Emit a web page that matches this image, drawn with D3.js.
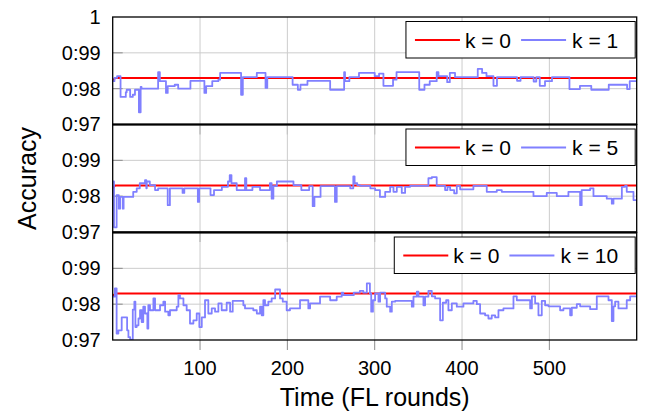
<!DOCTYPE html>
<html lang="en">
<head>
<meta charset="UTF-8">
<title>Accuracy over FL rounds</title>
<style>
    body { margin: 0; background: #fff; }
    text { font-family: "Liberation Sans", Arial, sans-serif; fill: #000; }
</style>
</head>
<body>
<div id="chart"></div>
<script src="https://d3js.org/d3.v7.min.js"></script>
<script>
// baseline k = 0 (same in every panel)
const roundsK0 = [0, 3, 600];
const accK0 = [0.9822, 0.983, 0.983];

// k = 1
const roundsK1 = [0,2,5,9,15,16,20,23,25.5,30,32,33,52,54,61,63,71,75,89,105,107,114,121,123,147,149,165,175,177,206,212,215,223,249,265,266,271,282,300,305,310,321,325,351,357,363,371,373,383,386,392,418,423,428,436,440,463,467,482,485,489,495,503,523,535,548,568,589,592,600];
const accK1 = [0.9821,0.9830,0.9835,0.9777,0.9790,0.9797,0.9777,0.9783,0.9797,0.9734,0.9805,0.9800,0.9846,0.9821,0.9788,0.9807,0.9811,0.9800,0.9822,0.9788,0.9807,0.9821,0.9825,0.9844,0.9783,0.9832,0.9844,0.9802,0.9832,0.9811,0.9797,0.9811,0.9822,0.9797,0.9846,0.9821,0.9832,0.9844,0.9835,0.9842,0.9808,0.9825,0.9846,0.9797,0.9811,0.9821,0.9846,0.9835,0.9818,0.9844,0.9832,0.9855,0.9844,0.9835,0.9808,0.9832,0.9822,0.9832,0.9820,0.9832,0.9808,0.9821,0.9832,0.9799,0.9808,0.9797,0.9811,0.9799,0.9821,0.9821];

// k = 5
const roundsK5 = [0,1.5,4.5,7,8.5,11.5,12.5,23.5,27.5,31,37,38.5,39,42.5,48.5,52,63,65.5,80,82,97.5,99,112,116,125,132,134,136,142,151.5,153,160,168.7,180,182,184,188,207,216,225,229,231,238,254.5,256.5,272,275.5,277,280,283,295,300.5,306,312,317.7,321.5,325.3,331,334.8,340.6,361.5,365.4,371,380.6,383.3,386.4,391,394,397.8,413,428.3,439.8,445.5,481.8,497,508.5,521.8,535.2,537,546.7,550.5,565.7,571.5,573.4,583,586.7,588.6,596.3,600];
const accK5 = [0.9841,0.9713,0.9803,0.9765,0.9798,0.9765,0.9798,0.9812,0.9822,0.9836,0.9845,0.9822,0.9841,0.9831,0.9817,0.9822,0.9775,0.9822,0.9809,0.9822,0.9784,0.9822,0.9803,0.9817,0.9826,0.9841,0.9859,0.9836,0.9817,0.9850,0.9817,0.9826,0.9817,0.9836,0.9793,0.9828,0.9841,0.9831,0.9817,0.9828,0.9772,0.9798,0.9828,0.9784,0.9828,0.9822,0.9855,0.9836,0.9831,0.9829,0.9822,0.9817,0.9798,0.9812,0.9826,0.9812,0.9826,0.9809,0.9826,0.9829,0.9850,0.9853,0.9829,0.9817,0.9826,0.9817,0.9808,0.9829,0.9819,0.9829,0.9812,0.9817,0.9812,0.9800,0.9809,0.9800,0.9812,0.9775,0.9817,0.9822,0.9800,0.9793,0.9779,0.9793,0.9826,0.9829,0.9812,0.9789,0.9789];

// k = 10
const roundsK10 = [0,2.5,4.5,6.5,10.3,16.5,18,20,23,24.8,26,27.5,29.5,31.3,33.2,35,37,39.7,40.8,42.7,46.6,48.5,54.2,58,60,63.7,65.6,73.3,75.2,77,81,84.7,88.5,92.4,96.2,99.2,102,105.7,109.5,113.4,117.2,121,124.8,130.5,134.4,137.4,149.6,151.5,161,165,168.7,170.6,172.5,174.4,178.2,182,186,191.6,194.7,199.2,203,214.5,224,226,237.4,249,256.5,262.2,264,276,283,287,291,294.5,296,298,300.5,304.3,306.2,312,313.8,317.7,319.6,323.4,342.5,344.4,348.2,350.1,355.8,357.7,361.5,365.4,369.2,374.9,378,381.8,384.4,388.3,394,401.6,413,416.9,420.7,426.4,430.2,434,437.9,441.7,447.4,458.9,462.7,478,480,483.7,487.5,491.3,495.1,499,512.3,516.1,523.8,525.7,531.4,535.2,546.7,554.3,567.7,571.5,573.4,575.3,579.1,588.6,592.5,600];
const accK10 = [0.9821,0.9844,0.9718,0.9727,0.9763,0.9727,0.9708,0.9701,0.9785,0.9807,0.9736,0.9741,0.9760,0.9783,0.9750,0.9793,0.9774,0.9732,0.9797,0.9783,0.9816,0.9783,0.9797,0.9807,0.9779,0.9769,0.9783,0.9793,0.9825,0.9816,0.9797,0.9783,0.9746,0.9755,0.9774,0.9736,0.9763,0.9811,0.9774,0.9788,0.9779,0.9802,0.9783,0.9804,0.9779,0.9809,0.9797,0.9788,0.9783,0.9774,0.9793,0.9769,0.9811,0.9797,0.9807,0.9816,0.9841,0.9816,0.9807,0.9783,0.9788,0.9811,0.9788,0.9802,0.9821,0.9811,0.9821,0.9832,0.9825,0.9832,0.9837,0.9832,0.9858,0.9830,0.9779,0.9811,0.9830,0.9807,0.9832,0.9816,0.9793,0.9779,0.9807,0.9809,0.9793,0.9821,0.9835,0.9821,0.9797,0.9821,0.9837,0.9822,0.9816,0.9755,0.9804,0.9811,0.9783,0.9802,0.9793,0.9802,0.9809,0.9800,0.9774,0.9769,0.9760,0.9769,0.9763,0.9783,0.9788,0.9822,0.9811,0.9788,0.9822,0.9802,0.9769,0.9809,0.9797,0.9794,0.9783,0.9788,0.9769,0.9790,0.9800,0.9794,0.9786,0.9822,0.9811,0.9753,0.9794,0.9807,0.9788,0.9811,0.9822,0.9822];

const seriesLabels = ["k = 1", "k = 5", "k = 10"];
const baseLabel = "k = 0";
const xTickVals = [100, 200, 300, 400, 500];
const yTickVals = [0.97, 0.98, 0.99, 1];
const yTickLabels = ["0:97", "0:98", "0:99", "1"];

const W = 645, H = 415;
const left = 112.7, right = 636.7;
const panelTops = [17, 124.5, 232.5];
const panelH = 107.5;

const svg = d3.select("#chart").append("svg")
    .attr("width", W).attr("height", H);

const x = d3.scaleLinear().domain([0, 600]).range([left, right]);

const panels = [
    { rounds: roundsK1, acc: accK1, label: seriesLabels[0] },
    { rounds: roundsK5, acc: accK5, label: seriesLabels[1] },
    { rounds: roundsK10, acc: accK10, label: seriesLabels[2] }
];

panels.forEach((p, i) => {
    const top = panelTops[i], bottom = top + panelH;
    const y = d3.scaleLinear().domain([0.97, 1]).range([bottom, top]);
    const g = svg.append("g");

    g.append("clipPath").attr("id", "clip" + i)
        .append("rect").attr("x", left).attr("y", top)
        .attr("width", right - left).attr("height", panelH);

    // grid
    g.selectAll(".gx").data(xTickVals).enter().append("line")
        .attr("x1", d => x(d)).attr("x2", d => x(d))
        .attr("y1", top).attr("y2", bottom)
        .attr("stroke", "#cccccc").attr("stroke-width", 1);
    g.selectAll(".gy").data([0.98, 0.99]).enter().append("line")
        .attr("x1", left).attr("x2", right)
        .attr("y1", d => y(d)).attr("y2", d => y(d))
        .attr("stroke", "#cccccc").attr("stroke-width", 1);

    // small ticks
    g.selectAll(".ty").data([0.98, 0.99]).enter().append("line")
        .attr("x1", left).attr("x2", left + 10)
        .attr("y1", d => y(d)).attr("y2", d => y(d))
        .attr("stroke", "#8c8c8c").attr("stroke-width", 1);
    g.selectAll(".tx").data(xTickVals).enter().append("line")
        .attr("x1", d => x(d)).attr("x2", d => x(d))
        .attr("y1", bottom).attr("y2", bottom + 10)
        .attr("stroke", "#8c8c8c").attr("stroke-width", 1);

    // y axis labels
    const vals = i === 0 ? yTickVals : yTickVals.slice(0, 3);
    const yAxis = d3.axisLeft(y).tickValues(vals)
        .tickFormat(d => yTickLabels[yTickVals.indexOf(d)])
        .tickSize(0).tickPadding(12);
    const ag = g.append("g").attr("transform", `translate(${left},0)`).call(yAxis);
    ag.select(".domain").remove();
    ag.selectAll("text").style("font-size", "20px")
        .style("font-family", '"Liberation Sans", Arial, sans-serif').attr("fill", "#000");

    // lines
    const line = d3.line()
        .x(d => x(d[0])).y(d => y(d[1]));
    const lineStep = d3.line().curve(d3.curveStepAfter)
        .x(d => x(d[0])).y(d => y(d[1]));

    g.append("path")
        .datum(roundsK0.map((r, j) => [r, accK0[j]]))
        .attr("clip-path", `url(#clip${i})`)
        .attr("d", line).attr("fill", "none")
        .attr("stroke", "#ff0000").attr("stroke-width", 2);
    g.append("path")
        .datum(p.rounds.map((r, j) => [r, p.acc[j]]))
        .attr("clip-path", `url(#clip${i})`)
        .attr("d", lineStep).attr("fill", "none")
        .attr("stroke", "#8080ff").attr("stroke-width", 1.8)
        .attr("stroke-linejoin", "round");

    // frame
    g.append("rect").attr("x", left).attr("y", top)
        .attr("width", right - left).attr("height", panelH)
        .attr("fill", "none").attr("stroke", "#000").attr("stroke-width", 1.3);

    // legend
    const lg = g.append("g");
    const box = lg.append("rect").attr("fill", "#fff")
        .attr("stroke", "#000").attr("stroke-width", 1);
    const ly = top + 23;
    const t0 = lg.append("text").attr("y", ly + 7.5).style("font-size", "21px").text(baseLabel);
    const t1 = lg.append("text").attr("y", ly + 7.5).style("font-size", "21px").text(p.label);
    const w0 = t0.node().getComputedTextLength();
    const w1 = t1.node().getComputedTextLength();
    const boxR = right - 1.5;
    const boxW = 9 + 45 + 5 + w0 + 10 + 45 + 6 + w1 + 17;
    const bx = boxR - boxW;
    box.attr("x", bx).attr("y", top + 4.5).attr("width", boxW).attr("height", 36.5);
    lg.append("line").attr("x1", bx + 9).attr("x2", bx + 54)
        .attr("y1", ly).attr("y2", ly).attr("stroke", "#ff0000").attr("stroke-width", 2);
    t0.attr("x", bx + 59);
    const bx2 = bx + 59 + w0 + 10;
    lg.append("line").attr("x1", bx2).attr("x2", bx2 + 45)
        .attr("y1", ly).attr("y2", ly).attr("stroke", "#8080ff").attr("stroke-width", 2);
    t1.attr("x", bx2 + 51);
});

// separators between panels
svg.selectAll(".sep").data([panelTops[1], panelTops[2]]).enter().append("line")
    .attr("x1", left).attr("x2", right)
    .attr("y1", d => d).attr("y2", d => d)
    .attr("stroke", "#000").attr("stroke-width", 2);

// x tick labels
svg.selectAll(".xl").data(xTickVals).enter().append("text")
    .attr("x", d => x(d)).attr("y", 375)
    .attr("text-anchor", "middle").style("font-size", "20px")
    .text(d => d);

svg.append("text")
    .attr("x", (left + right) / 2).attr("y", 406)
    .attr("text-anchor", "middle").style("font-size", "25px")
    .text("Time (FL rounds)");

svg.append("text")
    .attr("transform", `translate(36,${(panelTops[0] + panelTops[2] + panelH) / 2}) rotate(-90)`)
    .attr("text-anchor", "middle").style("font-size", "25px")
    .text("Accuracy");
</script>
</body>
</html>
